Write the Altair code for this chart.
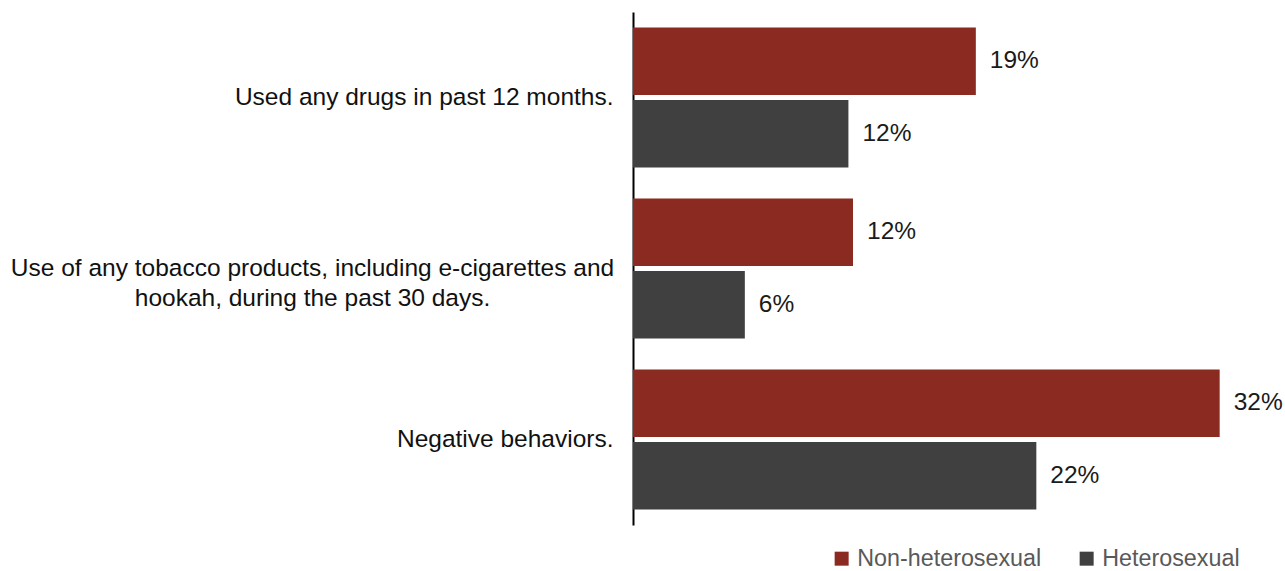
import altair as alt
import pandas as pd

categories = [
    "Used any drugs in past 12 months.",
    "Use of any tobacco products, including e-cigarettes and hookah, during the past 30 days.",
    "Negative behaviors.",
]
tobacco_lines = ["Use of any tobacco products, including e-cigarettes and",
                 "hookah, during the past 30 days."]
series = ["Non-heterosexual", "Heterosexual"]
non_heterosexual = [18.7, 12.0, 32.0]
heterosexual = [11.75, 6.1, 22.0]
colors = ["#8B2A21", "#404040"]

rows = []
for c, a, b in zip(categories, non_heterosexual, heterosexual):
    rows.append({"category": c, "group": series[0], "value": a})
    rows.append({"category": c, "group": series[1], "value": b})
df = pd.DataFrame(rows)

tob = categories[1]
test = "datum.value == '%s'" % tob
label_expr = "datum.label == '%s' ? ['%s', '%s'] : datum.label" % (tob, tobacco_lines[0], tobacco_lines[1])

FONT = "Liberation Sans"

y = alt.Y(
    "category:N",
    sort=categories,
    scale=alt.Scale(paddingInner=0.18, paddingOuter=0.09),
    axis=alt.Axis(
        title=None,
        labelExpr=label_expr,
        labelAlign={"condition": {"test": test, "value": "center"}, "value": "right"},
        labelPadding={"condition": {"test": test, "value": 321}, "value": 20},
        labelBaseline="middle",
        labelFont=FONT,
        labelFontSize=24.5,
        labelColor="#111111",
        labelLimit=900,
        labelLineHeight=30,
        ticks=False,
        domainColor="#000000",
        domainWidth=2,
        grid=False,
    ),
)
x = alt.X("value:Q", scale=alt.Scale(domain=[0, 35.4]), axis=None)
yoff = alt.YOffset("group:N", sort=series, scale=alt.Scale(paddingInner=0.07, paddingOuter=0))

base = alt.Chart(df).transform_calculate(
    label="format(datum.value, '.0f') + '%'"
)

bars = base.mark_bar().encode(
    x=x,
    y=y,
    yOffset=yoff,
    color=alt.Color(
        "group:N",
        sort=series,
        scale=alt.Scale(domain=series, range=colors),
        legend=alt.Legend(
            title=None,
            orient="none",
            legendX=197,
            legendY=535,
            direction="horizontal",
            symbolType="square",
            symbolSize=196,
            symbolStrokeWidth=0,
            labelFont=FONT,
            labelFontSize=23.3,
            labelColor="#595959",
            labelOffset=4,
            labelLimit=400,
            columnPadding=33,
            padding=0,
        ),
    ),
)

text = base.mark_text(
    align="left", baseline="middle", dx=14, fontSize=24.5, font=FONT, color="#1a1a1a"
).encode(x=x, y=y, yOffset=yoff, text="label:N")

chart = alt.layer(bars, text).properties(
    width=649,
    height=513,
    autosize=alt.AutoSizeParams(type="none"),
    padding={"left": 633, "top": 12, "right": 3, "bottom": 46},
).configure_view(stroke=None)

chart.save("out.html", embed_options={"renderer": "svg", "actions": False})
